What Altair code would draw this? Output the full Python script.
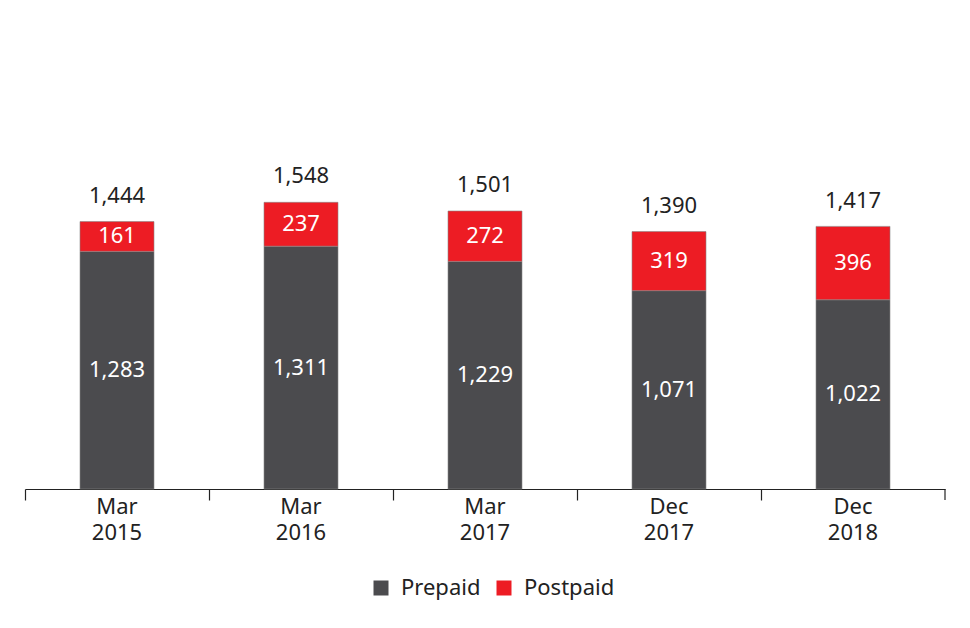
import altair as alt
import pandas as pd

periods = ["Mar\n2015", "Mar\n2016", "Mar\n2017", "Dec\n2017", "Dec\n2018"]
prepaid = [1283, 1311, 1229, 1071, 1022]
postpaid = [161, 237, 272, 319, 396]
totals = [1444, 1548, 1501, 1390, 1417]

series = ["Prepaid", "Postpaid"]
colors = ["#4b4b4e", "#ed1c24"]

rows = []
for i, p in enumerate(periods):
    rows.append({"period": p, "series": "Prepaid", "value": prepaid[i], "ord": 0,
                 "mid": prepaid[i] / 2, "label": f"{prepaid[i]:,}"})
    rows.append({"period": p, "series": "Postpaid", "value": postpaid[i], "ord": 1,
                 "mid": prepaid[i] + postpaid[i] / 2, "label": f"{postpaid[i]:,}"})
df = pd.DataFrame(rows)
tot = pd.DataFrame({"period": periods, "total": totals,
                    "label": [f"{t:,}" for t in totals]})

FONT = "Noto Sans"

xscale = alt.Scale(domain=periods, paddingInner=0, paddingOuter=0)
yscale = alt.Scale(domain=[0, 2500])

bars = alt.Chart(df).mark_bar(width=74, stroke="#888888", strokeWidth=0.6).encode(
    x=alt.X("period:N", scale=xscale, sort=periods, title=None,
            axis=alt.Axis(labelExpr="split(datum.label, '\\n')", labelAngle=0,
                          bandPosition=0, tickSize=11, tickColor="#222222",
                          domainColor="#222222", domainWidth=1.2, tickWidth=1.2,
                          labelFontSize=22, labelFont=FONT, labelColor="#222222",
                          labelLineHeight=26, labelPadding=-4, labelBound=False,
                          labelOverlap=False)),
    y=alt.Y("value:Q", stack="zero", scale=yscale, axis=None),
    color=alt.Color("series:N", scale=alt.Scale(domain=series, range=colors),
                    legend=alt.Legend(title=None, orient="none", direction="horizontal",
                                      legendX=345, legendY=551, symbolType="square",
                                      symbolSize=225, symbolStrokeWidth=0,
                                      labelFontSize=22, labelFont=FONT,
                                      labelColor="#222222", labelOffset=9,
                                      columnPadding=12, padding=0)),
    order=alt.Order("ord:Q"),
)

seg_text = alt.Chart(df).mark_text(fontSize=22, font=FONT, color="white",
                                   baseline="middle").encode(
    x=alt.X("period:N", scale=xscale, sort=periods),
    y=alt.Y("mid:Q", scale=yscale),
    text="label:N",
)

tot_text = alt.Chart(tot).mark_text(fontSize=22, font=FONT, color="#222222",
                                    baseline="middle", dy=-26).encode(
    x=alt.X("period:N", scale=xscale, sort=periods),
    y=alt.Y("total:Q", scale=yscale),
    text="label:N",
)

end_tick = alt.Chart(tot[tot["period"] == periods[-1]]).mark_rule(
    color="#222222", strokeWidth=1.2).encode(
    x=alt.X("period:N", scale=xscale, sort=periods, bandPosition=1),
    y=alt.value(463),
    y2=alt.value(474),
)

chart = alt.layer(bars, seg_text, tot_text, end_tick).properties(
    width=920, height=463,
    autosize=alt.AutoSizeParams(type="none"),
    padding={"left": 25, "top": 26, "right": 25, "bottom": 139},
).configure(background="white").configure_view(stroke=None, strokeWidth=0)

chart.save("out.html", embed_options={"renderer": "svg", "actions": False})
